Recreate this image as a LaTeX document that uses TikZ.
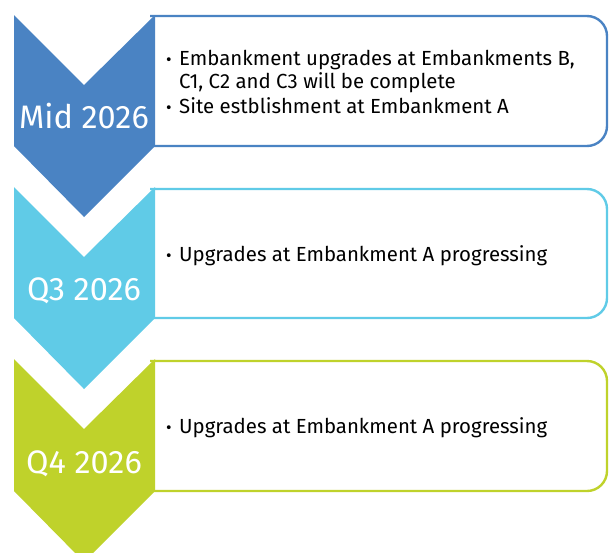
\documentclass[tikz,border=0pt]{standalone}
\usepackage{fontspec}
\setmainfont{Fira Sans}
\usetikzlibrary{positioning}
\definecolor{midblue}{HTML}{4A83C3}
\definecolor{skyblue}{HTML}{60CBE7}
\definecolor{lime}{HTML}{BFD22B}
\tikzset{
  chev/.style={fill=#1, draw=none},
  panel/.style={draw=#1, line width=2.4pt, rounded corners=20pt},
  yearlbl/.style={text=white, font=\fontsize{32.5}{32.5}\selectfont, inner sep=0pt, anchor=base},
  itemtxt/.style={anchor=base west, inner sep=0pt, font=\fontsize{20.4}{20.4}\selectfont},
  dot/.style={anchor=base, inner sep=0pt, font=\fontsize{17}{17}\selectfont}
}

\begin{document}
\begin{tikzpicture}[x=1pt, y=-1pt]
        \useasboundingbox (0, 0) rectangle (612, 552);
        \draw [panel=midblue] (150, 16) -- (607, 16) -- (607, 146) -- (150, 146);
        \draw [panel=skyblue] (150, 189) -- (607, 189) -- (607, 318) -- (150, 318);
        \draw [panel=lime]    (150, 361) -- (607, 361) -- (607, 491) -- (150, 491);
        \fill [chev=midblue] (14, 15)  -- (84, 85)  -- (155, 15)  -- (155, 146) -- (84, 217) -- (14, 146) -- cycle;
        \fill [chev=skyblue] (14, 187) -- (84, 257) -- (155, 187) -- (155, 318) -- (84, 389) -- (14, 318) -- cycle;
        \fill [chev=lime]    (14, 359) -- (84, 429) -- (155, 359) -- (155, 491) -- (84, 562) -- (14, 491) -- cycle;
        \node [yearlbl] (LM)  at (84, 128) {Mid 2026};
        \node [yearlbl] (L3)  at (84, 300) {Q3 2026};
        \node [yearlbl] (L4)  at (84, 473) {Q4 2026};
        \node [dot]     (B1a) at (169, 65)  {•};
        \node [itemtxt] (T1a) at (179, 65)  {Embankment upgrades at Embankments B,};
        \node [itemtxt] (T1b) at (179, 88)  {C1, C2 and C3 will be complete};
        \node [dot]     (B1b) at (169, 113) {•};
        \node [itemtxt] (T1c) at (179, 113) {Site estblishment at Embankment A};
        \node [dot]     (B2)  at (169, 261) {•};
        \node [itemtxt] (T2)  at (179, 261) {Upgrades at Embankment A progressing};
        \node [dot]     (B3)  at (169, 433) {•};
        \node [itemtxt] (T3)  at (179, 433) {Upgrades at Embankment A progressing};
\end{tikzpicture}
\end{document}
